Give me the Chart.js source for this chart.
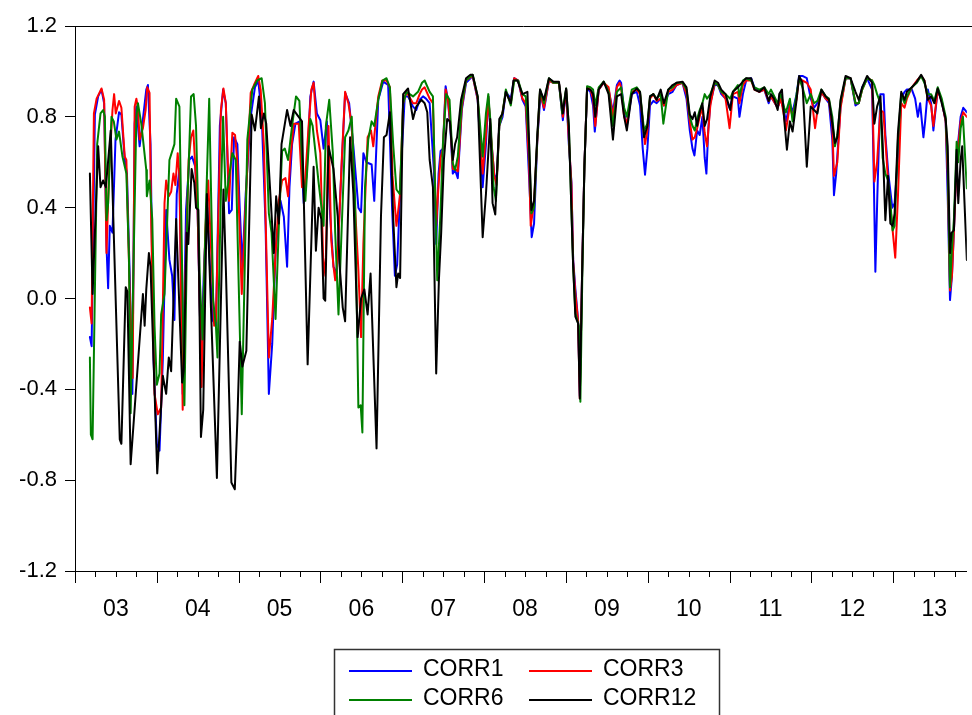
<!DOCTYPE html>
<html>
<head>
<meta charset="utf-8">
<title>CORR</title>
<script src="https://cdn.jsdelivr.net/npm/chart.js@4.4.1/dist/chart.umd.min.js"></script>
<style>
  html, body { margin: 0; padding: 0; background: #fff; }
  canvas { display: block; }
</style>
</head>
<body>
<canvas id="graph_corr" width="972" height="715"></canvas>
<script>
/*------------------------------*/
/*   CORRELATIONS 2003 - 2013   */
/*------------------------------*/
// each point: [decimal year, correlation]
var corr1 = [
  [2003.182,-0.17],[2003.203,-0.21],[2003.243,0.81],[2003.283,0.89],[2003.324,0.92],[2003.356,0.86],
  [2003.385,0.23],[2003.405,0.045],[2003.425,0.32],[2003.458,0.29],[2003.495,0.70],[2003.538,0.82],
  [2003.567,0.81],[2003.608,0.61],[2003.635,0.55],[2003.668,0.11],[2003.701,-0.42],[2003.729,0.77],
  [2003.750,0.845],[2003.790,0.67],[2003.830,0.79],[2003.871,0.92],[2003.891,0.94],[2003.923,0.68],
  [2003.960,-0.27],[2004.000,-0.64],[2004.033,-0.67],[2004.073,-0.27],[2004.114,0.39],[2004.154,0.17],
  [2004.187,0.10],[2004.215,-0.095],[2004.243,0.46],[2004.276,0.57],[2004.316,-0.42],[2004.357,0.39],
  [2004.397,0.61],[2004.430,0.625],[2004.470,0.58],[2004.498,0.39],[2004.539,-0.27],[2004.580,0.17],
  [2004.616,0.40],[2004.680,-0.095],[2004.722,-0.12],[2004.770,0.76],[2004.810,0.92],[2004.843,0.86],
  [2004.883,0.375],[2004.916,0.39],[2004.944,0.71],[2004.984,0.68],[2005.013,0.40],[2005.045,0.14],
  [2005.086,0.46],[2005.147,0.80],[2005.199,0.93],[2005.239,0.96],[2005.281,0.815],[2005.329,0.32],
  [2005.369,-0.42],[2005.410,-0.20],[2005.451,0.21],[2005.512,0.43],[2005.552,0.36],[2005.592,0.14],
  [2005.621,0.49],[2005.653,0.68],[2005.694,0.77],[2005.746,0.78],[2005.795,0.42],[2005.831,0.55],
  [2005.876,0.89],[2005.916,0.955],[2005.956,0.815],[2005.998,0.785],[2006.038,0.66],[2006.078,0.78],
  [2006.119,0.36],[2006.159,0.14],[2006.199,0.11],[2006.241,0.45],[2006.301,0.905],[2006.350,0.86],
  [2006.402,0.67],[2006.463,0.40],[2006.496,0.38],[2006.524,0.64],[2006.560,0.60],[2006.625,0.59],
  [2006.657,0.43],[2006.706,0.875],[2006.767,0.955],[2006.827,0.94],[2006.876,0.39],[2006.909,0.10],
  [2006.937,0.15],[2006.989,0.61],[2007.030,0.89],[2007.070,0.89],[2007.131,0.845],[2007.171,0.83],
  [2007.212,0.875],[2007.253,0.89],[2007.289,0.88],[2007.334,0.86],[2007.386,0.566],[2007.414,0.24],
  [2007.443,0.55],[2007.468,0.65],[2007.496,0.66],[2007.529,0.935],[2007.557,0.875],[2007.589,0.74],
  [2007.617,0.55],[2007.645,0.566],[2007.678,0.53],[2007.727,0.83],[2007.779,0.95],[2007.860,0.98],
  [2007.921,0.875],[2007.982,0.49],[2008.022,0.68],[2008.051,0.89],[2008.083,0.71],[2008.124,0.545],
  [2008.152,0.52],[2008.185,0.76],[2008.225,0.80],[2008.265,0.91],[2008.326,0.88],[2008.367,0.97],
  [2008.416,0.96],[2008.468,0.875],[2008.508,0.845],[2008.549,0.535],[2008.581,0.27],[2008.610,0.33],
  [2008.650,0.70],[2008.690,0.905],[2008.731,0.83],[2008.792,0.96],[2008.845,0.95],[2008.914,0.95],
  [2008.962,0.785],[2009.002,0.92],[2009.035,0.68],[2009.067,0.51],[2009.088,0.17],[2009.115,0.04],
  [2009.148,-0.095],[2009.169,-0.43],[2009.197,0.11],[2009.225,0.58],[2009.258,0.925],[2009.298,0.91],
  [2009.331,0.85],[2009.352,0.735],[2009.400,0.92],[2009.461,0.95],[2009.521,0.92],[2009.574,0.82],
  [2009.622,0.94],[2009.655,0.96],[2009.674,0.95],[2009.711,0.82],[2009.744,0.76],[2009.804,0.90],
  [2009.865,0.91],[2009.905,0.85],[2009.938,0.66],[2009.966,0.545],[2009.995,0.66],[2010.027,0.85],
  [2010.068,0.87],[2010.108,0.86],[2010.157,0.88],[2010.197,0.85],[2010.250,0.90],[2010.303,0.91],
  [2010.351,0.94],[2010.424,0.95],[2010.473,0.88],[2010.513,0.74],[2010.546,0.66],[2010.570,0.63],
  [2010.603,0.74],[2010.634,0.72],[2010.667,0.80],[2010.695,0.62],[2010.716,0.55],[2010.740,0.75],
  [2010.764,0.86],[2010.817,0.94],[2010.858,0.94],[2010.898,0.90],[2010.950,0.88],[2010.999,0.84],
  [2011.040,0.89],[2011.101,0.88],[2011.120,0.80],[2011.162,0.90],[2011.202,0.96],[2011.263,0.97],
  [2011.303,0.93],[2011.363,0.91],[2011.424,0.92],[2011.477,0.86],[2011.505,0.89],[2011.587,0.84],
  [2011.627,0.88],[2011.667,0.82],[2011.688,0.78],[2011.736,0.86],[2011.769,0.82],[2011.818,0.90],
  [2011.849,0.98],[2011.890,0.98],[2011.943,0.97],[2011.991,0.88],[2012.032,0.84],[2012.073,0.86],
  [2012.121,0.91],[2012.174,0.88],[2012.214,0.86],[2012.255,0.70],[2012.275,0.455],[2012.302,0.55],
  [2012.356,0.85],[2012.417,0.97],[2012.478,0.97],[2012.538,0.85],[2012.578,0.86],[2012.620,0.93],
  [2012.680,0.97],[2012.741,0.92],[2012.763,0.50],[2012.781,0.118],[2012.805,0.45],[2012.842,0.90],
  [2012.882,0.90],[2012.903,0.72],[2012.939,0.55],[2012.988,0.40],[2013.016,0.42],[2013.057,0.62],
  [2013.097,0.88],[2013.137,0.91],[2013.166,0.92],[2013.227,0.92],[2013.267,0.88],[2013.300,0.80],
  [2013.328,0.86],[2013.368,0.71],[2013.389,0.78],[2013.422,0.92],[2013.462,0.86],[2013.490,0.74],
  [2013.543,0.92],[2013.592,0.87],[2013.640,0.78],[2013.665,0.45],[2013.693,-0.007],[2013.717,0.10],
  [2013.741,0.30],[2013.774,0.62],[2013.823,0.80],[2013.855,0.84],[2013.899,0.82]
];
var corr3 = [
  [2003.182,-0.04],[2003.203,-0.11],[2003.231,0.815],[2003.264,0.88],[2003.304,0.91],[2003.324,0.925],
  [2003.356,0.875],[2003.385,0.20],[2003.417,0.566],[2003.458,0.83],[2003.478,0.90],[2003.498,0.815],
  [2003.538,0.87],[2003.567,0.84],[2003.608,0.625],[2003.628,0.61],[2003.668,0.04],[2003.705,-0.35],
  [2003.729,0.845],[2003.750,0.88],[2003.769,0.84],[2003.790,0.70],[2003.830,0.75],[2003.863,0.83],
  [2003.883,0.93],[2003.911,0.905],[2003.932,0.32],[2003.972,-0.42],[2004.012,-0.51],[2004.053,-0.48],
  [2004.094,0.42],[2004.114,0.52],[2004.146,0.45],[2004.175,0.47],[2004.203,0.55],[2004.227,0.50],
  [2004.255,0.64],[2004.276,0.54],[2004.316,-0.49],[2004.349,0.10],[2004.389,0.61],[2004.418,0.71],
  [2004.446,0.74],[2004.498,0.39],[2004.547,-0.39],[2004.592,0.30],[2004.628,0.52],[2004.665,0.20],
  [2004.701,-0.12],[2004.722,-0.10],[2004.783,0.83],[2004.814,0.925],[2004.843,0.86],[2004.883,0.43],
  [2004.923,0.73],[2004.956,0.72],[2004.984,0.60],[2005.038,0.02],[2005.086,0.42],[2005.147,0.905],
  [2005.187,0.94],[2005.239,0.98],[2005.269,0.92],[2005.309,0.67],[2005.369,-0.26],[2005.410,-0.09],
  [2005.451,0.20],[2005.491,0.43],[2005.531,0.52],[2005.572,0.53],[2005.604,0.45],[2005.633,0.625],
  [2005.673,0.77],[2005.734,0.77],[2005.774,0.49],[2005.807,0.49],[2005.855,0.76],[2005.888,0.92],
  [2005.916,0.95],[2005.956,0.74],[2005.998,0.64],[2006.038,0.10],[2006.066,0.18],[2006.098,0.76],
  [2006.131,0.26],[2006.159,0.14],[2006.180,0.08],[2006.208,0.17],[2006.260,0.61],[2006.301,0.91],
  [2006.341,0.86],[2006.382,0.76],[2006.423,0.40],[2006.463,0.125],[2006.496,-0.17],[2006.524,0.24],
  [2006.576,0.71],[2006.617,0.74],[2006.645,0.67],[2006.670,0.76],[2006.706,0.89],[2006.754,0.96],
  [2006.807,0.96],[2006.848,0.93],[2006.880,0.54],[2006.928,0.32],[2006.970,0.45],[2007.010,0.86],
  [2007.050,0.91],[2007.131,0.86],[2007.171,0.86],[2007.212,0.90],[2007.241,0.92],[2007.273,0.93],
  [2007.334,0.88],[2007.374,0.86],[2007.414,0.32],[2007.443,0.50],[2007.468,0.62],[2007.496,0.66],
  [2007.529,0.92],[2007.557,0.88],[2007.589,0.76],[2007.617,0.57],[2007.645,0.57],[2007.678,0.56],
  [2007.727,0.84],[2007.779,0.96],[2007.860,0.98],[2007.921,0.88],[2007.982,0.55],[2008.022,0.72],
  [2008.051,0.89],[2008.083,0.72],[2008.124,0.54],[2008.152,0.50],[2008.185,0.76],[2008.225,0.82],
  [2008.265,0.91],[2008.326,0.86],[2008.367,0.97],[2008.416,0.96],[2008.468,0.88],[2008.508,0.86],
  [2008.549,0.60],[2008.569,0.32],[2008.610,0.42],[2008.650,0.70],[2008.683,0.91],[2008.731,0.84],
  [2008.792,0.96],[2008.845,0.95],[2008.914,0.95],[2008.962,0.80],[2009.002,0.92],[2009.035,0.70],
  [2009.067,0.50],[2009.088,0.16],[2009.115,0.02],[2009.148,-0.10],[2009.169,-0.44],[2009.197,0.11],
  [2009.225,0.58],[2009.258,0.93],[2009.298,0.92],[2009.331,0.88],[2009.358,0.76],[2009.400,0.92],
  [2009.461,0.95],[2009.521,0.93],[2009.574,0.80],[2009.622,0.93],[2009.655,0.95],[2009.674,0.93],
  [2009.711,0.80],[2009.744,0.77],[2009.804,0.91],[2009.865,0.92],[2009.905,0.90],[2009.966,0.68],
  [2009.995,0.74],[2010.027,0.88],[2010.068,0.90],[2010.108,0.87],[2010.157,0.88],[2010.197,0.85],
  [2010.250,0.91],[2010.303,0.92],[2010.351,0.94],[2010.424,0.95],[2010.473,0.90],[2010.513,0.78],
  [2010.546,0.70],[2010.574,0.71],[2010.603,0.75],[2010.634,0.80],[2010.667,0.84],[2010.695,0.73],
  [2010.724,0.67],[2010.764,0.85],[2010.817,0.95],[2010.858,0.94],[2010.898,0.91],[2010.950,0.88],
  [2010.999,0.75],[2011.040,0.90],[2011.101,0.91],[2011.120,0.86],[2011.162,0.94],[2011.202,0.96],
  [2011.263,0.96],[2011.303,0.92],[2011.363,0.91],[2011.424,0.92],[2011.477,0.87],[2011.505,0.89],
  [2011.587,0.84],[2011.627,0.88],[2011.667,0.80],[2011.688,0.74],[2011.736,0.85],[2011.769,0.80],
  [2011.818,0.88],[2011.849,0.97],[2011.890,0.96],[2011.943,0.95],[2011.991,0.92],[2012.044,0.75],
  [2012.073,0.83],[2012.121,0.91],[2012.174,0.88],[2012.214,0.87],[2012.255,0.76],[2012.275,0.54],
  [2012.316,0.60],[2012.356,0.84],[2012.417,0.97],[2012.478,0.97],[2012.538,0.86],[2012.578,0.86],
  [2012.620,0.92],[2012.680,0.97],[2012.741,0.96],[2012.769,0.515],[2012.802,0.60],[2012.842,0.83],
  [2012.878,0.82],[2012.903,0.70],[2012.939,0.50],[2012.992,0.30],[2013.024,0.18],[2013.057,0.45],
  [2013.097,0.86],[2013.137,0.84],[2013.166,0.88],[2013.227,0.93],[2013.288,0.96],[2013.340,0.98],
  [2013.380,0.96],[2013.422,0.88],[2013.462,0.85],[2013.490,0.76],[2013.543,0.92],[2013.592,0.87],
  [2013.640,0.78],[2013.665,0.55],[2013.693,0.035],[2013.717,0.10],[2013.741,0.30],[2013.774,0.60],
  [2013.823,0.78],[2013.855,0.82],[2013.899,0.80]
];
var corr6 = [
  [2003.182,-0.26],[2003.194,-0.60],[2003.215,-0.62],[2003.271,0.68],[2003.312,0.815],[2003.344,0.83],
  [2003.365,0.80],[2003.385,0.345],[2003.405,0.42],[2003.446,0.80],[2003.474,0.78],[2003.507,0.70],
  [2003.538,0.735],[2003.580,0.625],[2003.628,0.55],[2003.660,0.17],[2003.680,-0.505],[2003.750,0.80],
  [2003.769,0.86],[2003.810,0.77],[2003.871,0.566],[2003.878,0.45],[2003.911,0.52],[2003.944,0.35],
  [2003.972,-0.12],[2004.000,-0.38],[2004.033,-0.33],[2004.053,-0.07],[2004.094,0.02],[2004.154,0.61],
  [2004.215,0.68],[2004.236,0.88],[2004.276,0.845],[2004.337,-0.47],[2004.377,0.46],[2004.418,0.89],
  [2004.450,0.90],[2004.479,0.76],[2004.527,0.07],[2004.559,-0.18],[2004.600,0.39],[2004.640,0.88],
  [2004.689,-0.01],[2004.722,-0.12],[2004.741,-0.26],[2004.783,0.46],[2004.810,0.80],[2004.843,0.43],
  [2004.923,0.64],[2004.965,0.61],[2005.038,-0.51],[2005.106,0.70],[2005.167,0.92],[2005.227,0.96],
  [2005.281,0.97],[2005.321,0.86],[2005.369,0.375],[2005.402,0.29],[2005.451,-0.09],[2005.491,0.32],
  [2005.531,0.65],[2005.564,0.66],[2005.604,0.61],[2005.653,0.76],[2005.701,0.89],[2005.742,0.87],
  [2005.783,0.54],[2005.815,0.43],[2005.876,0.79],[2005.904,0.76],[2005.944,0.625],[2005.977,0.51],
  [2006.038,0.32],[2006.066,0.76],[2006.107,0.875],[2006.151,0.64],[2006.180,0.29],[2006.220,-0.07],
  [2006.260,0.32],[2006.301,0.71],[2006.341,0.74],[2006.382,0.80],[2006.423,0.43],[2006.463,-0.48],
  [2006.491,-0.47],[2006.512,-0.59],[2006.544,0.49],[2006.584,0.70],[2006.625,0.78],[2006.657,0.76],
  [2006.706,0.875],[2006.758,0.96],[2006.807,0.97],[2006.848,0.93],[2006.888,0.68],[2006.928,0.48],
  [2006.970,0.46],[2007.010,0.86],[2007.050,0.91],[2007.131,0.89],[2007.192,0.91],[2007.241,0.95],
  [2007.273,0.96],[2007.334,0.91],[2007.374,0.89],[2007.402,0.46],[2007.427,0.08],[2007.468,0.39],
  [2007.496,0.68],[2007.536,0.90],[2007.577,0.875],[2007.617,0.595],[2007.645,0.566],[2007.678,0.625],
  [2007.727,0.86],[2007.779,0.96],[2007.860,0.985],[2007.921,0.89],[2007.982,0.625],[2008.022,0.815],
  [2008.051,0.90],[2008.083,0.75],[2008.116,0.49],[2008.144,0.43],[2008.185,0.76],[2008.225,0.82],
  [2008.265,0.92],[2008.326,0.85],[2008.367,0.96],[2008.416,0.96],[2008.468,0.90],[2008.508,0.89],
  [2008.549,0.68],[2008.577,0.375],[2008.610,0.40],[2008.650,0.71],[2008.683,0.92],[2008.731,0.86],
  [2008.792,0.97],[2008.845,0.95],[2008.914,0.95],[2008.954,0.815],[2009.002,0.925],[2009.035,0.76],
  [2009.088,0.14],[2009.115,-0.065],[2009.157,-0.12],[2009.176,-0.455],[2009.200,0.11],[2009.225,0.57],
  [2009.258,0.935],[2009.298,0.93],[2009.331,0.92],[2009.358,0.85],[2009.400,0.93],[2009.461,0.955],
  [2009.521,0.91],[2009.574,0.76],[2009.622,0.91],[2009.674,0.93],[2009.711,0.84],[2009.744,0.80],
  [2009.804,0.92],[2009.865,0.93],[2009.905,0.91],[2009.954,0.74],[2009.995,0.77],[2010.027,0.89],
  [2010.068,0.90],[2010.108,0.88],[2010.157,0.90],[2010.190,0.77],[2010.250,0.92],[2010.303,0.93],
  [2010.351,0.95],[2010.424,0.95],[2010.473,0.92],[2010.513,0.80],[2010.546,0.76],[2010.574,0.74],
  [2010.603,0.79],[2010.634,0.83],[2010.667,0.86],[2010.695,0.90],[2010.724,0.88],[2010.764,0.90],
  [2010.817,0.95],[2010.858,0.94],[2010.898,0.91],[2010.950,0.90],[2011.007,0.88],[2011.040,0.91],
  [2011.101,0.94],[2011.120,0.89],[2011.162,0.96],[2011.202,0.97],[2011.263,0.96],[2011.303,0.93],
  [2011.363,0.92],[2011.424,0.93],[2011.477,0.90],[2011.505,0.92],[2011.587,0.86],[2011.627,0.90],
  [2011.667,0.84],[2011.688,0.82],[2011.736,0.88],[2011.769,0.78],[2011.818,0.90],[2011.849,0.97],
  [2011.890,0.93],[2011.943,0.86],[2011.991,0.90],[2012.032,0.86],[2012.073,0.87],[2012.121,0.92],
  [2012.174,0.89],[2012.214,0.88],[2012.255,0.80],[2012.287,0.67],[2012.316,0.72],[2012.356,0.87],
  [2012.417,0.97],[2012.478,0.97],[2012.538,0.86],[2012.578,0.86],[2012.620,0.92],[2012.680,0.97],
  [2012.741,0.96],[2012.769,0.94],[2012.802,0.90],[2012.842,0.86],[2012.870,0.62],[2012.903,0.55],
  [2012.936,0.52],[2012.964,0.42],[2012.992,0.30],[2013.016,0.32],[2013.057,0.70],[2013.097,0.90],
  [2013.137,0.86],[2013.166,0.89],[2013.227,0.93],[2013.288,0.95],[2013.340,0.98],[2013.380,0.95],
  [2013.422,0.90],[2013.462,0.90],[2013.502,0.87],[2013.543,0.93],[2013.592,0.88],[2013.640,0.80],
  [2013.665,0.60],[2013.693,0.05],[2013.713,0.20],[2013.741,0.35],[2013.774,0.69],[2013.794,0.60],
  [2013.823,0.75],[2013.851,0.80],[2013.899,0.485]
];
var corr12 = [
  [2003.182,0.55],[2003.215,0.02],[2003.283,0.67],[2003.312,0.49],[2003.344,0.52],[2003.377,0.49],
  [2003.437,0.74],[2003.547,-0.62],[2003.567,-0.64],[2003.620,0.05],[2003.640,0.03],[2003.680,-0.73],
  [2003.708,-0.59],[2003.830,0.02],[2003.851,-0.12],[2003.871,0.04],[2003.903,0.20],[2003.923,0.14],
  [2004.005,-0.77],[2004.073,-0.34],[2004.114,-0.42],[2004.146,-0.26],[2004.175,-0.32],[2004.236,0.35],
  [2004.309,-0.37],[2004.328,-0.32],[2004.365,0.29],[2004.385,0.24],[2004.425,0.57],[2004.458,0.51],
  [2004.479,0.40],[2004.507,0.39],[2004.539,-0.61],[2004.567,-0.49],[2004.612,0.46],[2004.640,0.18],
  [2004.734,-0.79],[2004.814,0.48],[2004.843,0.14],[2004.911,-0.81],[2004.953,-0.84],[2004.984,-0.54],
  [2005.013,-0.19],[2005.045,-0.30],[2005.094,-0.23],[2005.159,0.81],[2005.199,0.74],[2005.248,0.89],
  [2005.272,0.75],[2005.309,0.815],[2005.337,0.77],[2005.430,0.20],[2005.458,0.45],[2005.491,0.33],
  [2005.524,0.68],[2005.592,0.83],[2005.633,0.76],[2005.673,0.83],[2005.713,0.81],[2005.774,0.78],
  [2005.843,-0.29],[2005.916,0.58],[2005.944,0.21],[2005.977,0.40],[2006.010,0.35],[2006.038,0.00],
  [2006.058,-0.01],[2006.098,0.67],[2006.159,0.57],[2006.211,0.36],[2006.232,0.155],[2006.272,-0.04],
  [2006.301,-0.10],[2006.362,0.71],[2006.402,0.46],[2006.454,-0.17],[2006.496,0.00],[2006.536,0.04],
  [2006.576,-0.07],[2006.612,0.11],[2006.685,-0.66],[2006.739,0.36],[2006.775,0.71],[2006.807,0.72],
  [2006.848,0.82],[2006.888,0.36],[2006.928,0.05],[2006.949,0.11],[2006.973,0.09],[2007.010,0.90],
  [2007.070,0.925],[2007.131,0.79],[2007.171,0.845],[2007.232,0.875],[2007.273,0.86],[2007.305,0.82],
  [2007.334,0.61],[2007.374,0.49],[2007.414,-0.33],[2007.447,0.08],[2007.475,0.29],[2007.508,0.61],
  [2007.548,0.79],[2007.581,0.78],[2007.617,0.61],[2007.645,0.68],[2007.670,0.71],[2007.718,0.875],
  [2007.779,0.97],[2007.832,0.985],[2007.860,0.985],[2007.921,0.89],[2007.982,0.27],[2008.022,0.46],
  [2008.075,0.79],[2008.103,0.42],[2008.136,0.37],[2008.185,0.79],[2008.225,0.815],[2008.265,0.91],
  [2008.326,0.86],[2008.358,0.96],[2008.407,0.96],[2008.468,0.90],[2008.529,0.91],[2008.577,0.39],
  [2008.610,0.43],[2008.650,0.72],[2008.683,0.92],[2008.731,0.875],[2008.792,0.97],[2008.845,0.955],
  [2008.914,0.955],[2008.962,0.815],[2009.002,0.925],[2009.035,0.76],[2009.088,0.14],[2009.115,-0.08],
  [2009.148,-0.11],[2009.169,-0.44],[2009.197,0.11],[2009.225,0.58],[2009.258,0.925],[2009.298,0.92],
  [2009.331,0.90],[2009.358,0.80],[2009.400,0.92],[2009.461,0.955],[2009.521,0.90],[2009.574,0.70],
  [2009.622,0.89],[2009.674,0.90],[2009.711,0.80],[2009.744,0.74],[2009.804,0.90],[2009.865,0.925],
  [2009.905,0.91],[2009.954,0.71],[2009.995,0.76],[2010.027,0.89],[2010.068,0.90],[2010.108,0.875],
  [2010.157,0.92],[2010.197,0.86],[2010.250,0.92],[2010.303,0.94],[2010.351,0.95],[2010.424,0.955],
  [2010.473,0.93],[2010.513,0.81],[2010.546,0.79],[2010.574,0.82],[2010.603,0.76],[2010.634,0.82],
  [2010.667,0.86],[2010.695,0.76],[2010.724,0.79],[2010.764,0.89],[2010.817,0.96],[2010.858,0.95],
  [2010.898,0.92],[2010.950,0.90],[2011.007,0.83],[2011.040,0.91],[2011.101,0.93],[2011.162,0.955],
  [2011.202,0.97],[2011.263,0.97],[2011.303,0.92],[2011.363,0.91],[2011.424,0.93],[2011.477,0.87],
  [2011.505,0.90],[2011.542,0.88],[2011.587,0.83],[2011.606,0.90],[2011.639,0.92],[2011.667,0.79],
  [2011.700,0.655],[2011.736,0.78],[2011.769,0.735],[2011.818,0.875],[2011.849,0.98],[2011.890,0.95],
  [2011.943,0.58],[2011.991,0.845],[2012.032,0.83],[2012.073,0.815],[2012.121,0.92],[2012.174,0.89],
  [2012.214,0.875],[2012.255,0.77],[2012.287,0.685],[2012.316,0.71],[2012.356,0.875],[2012.417,0.98],
  [2012.478,0.97],[2012.538,0.91],[2012.578,0.875],[2012.620,0.93],[2012.680,0.98],[2012.741,0.95],
  [2012.769,0.77],[2012.802,0.845],[2012.842,0.89],[2012.870,0.685],[2012.903,0.345],[2012.936,0.54],
  [2012.964,0.33],[2012.992,0.32],[2013.016,0.375],[2013.057,0.73],[2013.097,0.91],[2013.137,0.875],
  [2013.166,0.91],[2013.227,0.93],[2013.288,0.955],[2013.340,0.985],[2013.380,0.96],[2013.422,0.875],
  [2013.462,0.89],[2013.502,0.86],[2013.543,0.925],[2013.592,0.86],[2013.640,0.79],[2013.665,0.67],
  [2013.693,0.20],[2013.713,0.29],[2013.741,0.30],[2013.774,0.655],[2013.794,0.42],[2013.823,0.61],
  [2013.842,0.67],[2013.899,0.17]
];

var seriesNames = ['CORR1', 'CORR3', 'CORR6', 'CORR12'];
var seriesColors = ['#0000ff', '#ff0000', '#008000', '#000000'];
var yearLabels = ['03', '04', '05', '06', '07', '08', '09', '10', '11', '12', '13'];
var yTicks = [-1.2, -0.8, -0.4, 0.0, 0.4, 0.8, 1.2];
var firstYear = 2003;
var lastDate = 2013.899;

var fontFamily = "'Liberation Sans', Arial, Helvetica, sans-serif";

function toPoints(arr) {
  return arr.map(function (p) { return { x: p[0], y: p[1] }; });
}

// top frame line + year / quarter ticks under the x axis
var frameTicks = {
  id: 'frameTicks',
  afterDraw: function (chart) {
    var c = chart.ctx, area = chart.chartArea, xs = chart.scales.x;
    c.save();
    c.strokeStyle = '#000';
    c.lineWidth = 1;
    c.beginPath();
    c.moveTo(area.left, area.top + 0.5);
    c.lineTo(chart.width, area.top + 0.5);
    for (var i = 0; i < yearLabels.length; i++) {
      for (var q = 0; q < 4; q++) {
        var v = firstYear + i + q / 4;
        if (v > lastDate) break;
        var px = Math.round(xs.getPixelForValue(v)) + 0.5;
        var len = q === 0 ? 12 : 6;
        c.moveTo(px, area.bottom);
        c.lineTo(px, area.bottom + len);
      }
    }
    c.stroke();
    c.restore();
  }
};

// boxed legend, two entries per row
var boxLegend = {
  id: 'boxLegend',
  afterDraw: function (chart) {
    var c = chart.ctx;
    var box = { left: 334.5, top: 649.5, width: 385, height: 90 };
    var cols = [349, 529], rows = [670.5, 699.5];
    c.save();
    c.strokeStyle = '#333';
    c.lineWidth = 1.5;
    c.strokeRect(box.left, box.top, box.width, box.height);
    c.font = '23px ' + fontFamily;
    c.textBaseline = 'middle';
    c.fillStyle = '#000';
    chart.data.datasets.forEach(function (ds, i) {
      var x = cols[i % 2], y = rows[Math.floor(i / 2)];
      c.strokeStyle = ds.borderColor;
      c.lineWidth = 2;
      c.beginPath();
      c.moveTo(x, y + 0.5);
      c.lineTo(x + 63, y + 0.5);
      c.stroke();
      c.fillText(ds.label, x + 74, y - 1);
    });
    c.restore();
  }
};

var ctx_corr = document.getElementById('graph_corr').getContext('2d');
var allSeries = [corr1, corr3, corr6, corr12];

var config_corr = {
  type: 'line',
  data: {
    datasets: allSeries.map(function (s, i) {
      return {
        label: seriesNames[i],
        data: toPoints(s),
        borderColor: seriesColors[i],
        backgroundColor: seriesColors[i],
        borderWidth: 2,
        pointRadius: 0,
        tension: 0,
        fill: false,
        order: allSeries.length - i
      };
    })
  },
  options: {
    responsive: false,
    animation: false,
    devicePixelRatio: 1,
    layout: { padding: { top: 26, right: 0, bottom: 0, left: 0 } },
    elements: { line: { borderJoinStyle: 'round', borderCapStyle: 'round' } },
    plugins: {
      legend: { display: false },
      tooltip: { enabled: false }
    },
    scales: {
      x: {
        type: 'linear',
        min: firstYear,
        max: lastDate,
        grid: { display: false, drawTicks: false },
        border: { display: true, color: '#000', width: 1 },
        afterBuildTicks: function (scale) {
          scale.ticks = yearLabels.map(function (l, i) { return { value: firstYear + i + 0.5 }; });
        },
        afterFit: function (scale) { scale.height = 144; },
        ticks: {
          autoSkip: false,
          maxRotation: 0,
          padding: 25,
          color: '#000',
          font: { family: fontFamily, size: 23 },
          callback: function (v, i) { return yearLabels[i]; }
        }
      },
      y: {
        min: -1.2,
        max: 1.2,
        afterBuildTicks: function (scale) {
          scale.ticks = yTicks.map(function (v) { return { value: v }; });
        },
        afterFit: function (scale) { scale.width = 75; },
        grid: { drawOnChartArea: false, drawTicks: true, tickLength: 10, color: '#000' },
        border: { display: true, color: '#000', width: 1 },
        ticks: {
          padding: 8,
          color: '#000',
          font: { family: fontFamily, size: 22 },
          callback: function (v) { return v.toFixed(1); }
        }
      }
    }
  },
  plugins: [frameTicks, boxLegend]
};
var graph_corr = new Chart(ctx_corr, config_corr);
/*------------------------------*/
</script>
</body>
</html>
